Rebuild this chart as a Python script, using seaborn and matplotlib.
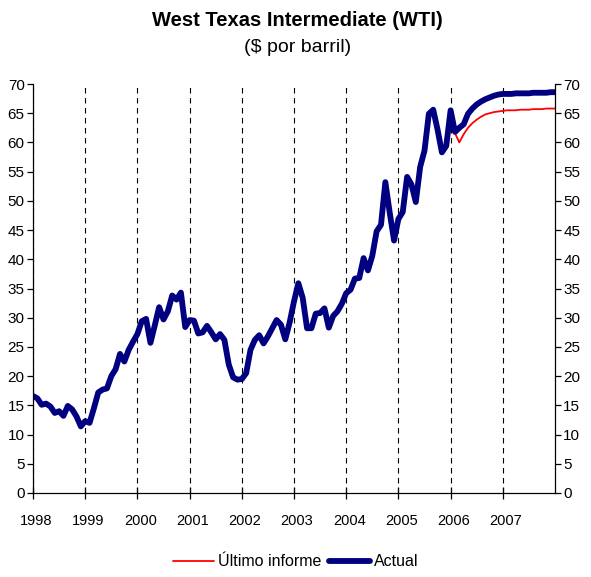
import numpy as np
import pandas as pd
import matplotlib
matplotlib.use("Agg")
import matplotlib.pyplot as plt
import matplotlib.transforms as mtransforms
import seaborn as sns

# ------------------------------------------------------------
# Datos: precio mensual WTI (ene 1998 - ene 2008)
# ------------------------------------------------------------

actual = [
    16.6, 16.2, 15.1, 15.3, 14.8, 13.7, 14.0, 13.2, 14.9, 14.3, 13.1, 11.4,  # 1998
    12.3, 12.0, 14.5, 17.2, 17.7, 17.9, 20.0, 21.2, 23.8, 22.5, 24.5, 25.9,  # 1999
    27.2, 29.4, 29.8, 25.7, 28.7, 31.8, 29.7, 31.1, 33.8, 33.1, 34.3, 28.4,  # 2000
    29.6, 29.5, 27.3, 27.5, 28.6, 27.5, 26.3, 27.2, 26.2, 22.0, 19.8, 19.4,  # 2001
    19.5, 20.5, 24.5, 26.2, 27.0, 25.6, 26.8, 28.2, 29.6, 28.8, 26.3, 29.2,  # 2002
    32.8, 35.9, 33.4, 28.2, 28.2, 30.7, 30.8, 31.6, 28.3, 30.3, 31.1, 32.4,  # 2003
    34.2, 34.8, 36.7, 36.8, 40.2, 38.1, 40.6, 44.8, 45.9, 53.2, 48.0, 43.2,  # 2004
    46.9, 48.1, 54.1, 52.8, 49.8, 55.8, 58.6, 64.9, 65.6, 62.2, 58.3, 59.4,  # 2005
    65.5, 61.8, 62.5, 63.1, 64.9, 65.8, 66.5, 67.0, 67.4, 67.7, 68.0, 68.2,  # 2006
    68.3, 68.3, 68.3, 68.4, 68.4, 68.4, 68.4, 68.5, 68.5, 68.5, 68.5, 68.6,  # 2007
    68.6,                                                                    # 2008
]

# "Último informe" empieza en feb 2006
ultimo_inicio = 97
ultimo = [
    61.6, 60.0, 61.4, 62.5, 63.3, 63.9, 64.4, 64.8, 65.0, 65.2, 65.3,        # 2006
    65.4, 65.5, 65.5, 65.5, 65.6, 65.6, 65.6, 65.7, 65.7, 65.7, 65.8, 65.8,  # 2007
    65.8,                                                                    # 2008
]

years = list(range(1998, 2008))
yticks = list(range(0, 75, 5))

df_actual = pd.DataFrame({"x": 1998 + np.arange(len(actual)) / 12, "valor": actual})
df_ultimo = pd.DataFrame({
    "x": 1998 + (ultimo_inicio + np.arange(len(ultimo))) / 12,
    "valor": ultimo,
})

# ------------------------------------------------------------
# Estilo
# ------------------------------------------------------------

sns.set_style("ticks")
plt.rcParams["font.family"] = ["Liberation Sans", "DejaVu Sans"]
plt.rcParams["text.color"] = "black"

fig = plt.figure(figsize=(5.91, 5.77), dpi=100)
ax = fig.add_axes([33 / 591, 84 / 577, 522 / 591, 409 / 577])

sns.lineplot(data=df_ultimo, x="x", y="valor", ax=ax, color="#ff0000",
             linewidth=1.3, label="Último informe")
sns.lineplot(data=df_actual, x="x", y="valor", ax=ax, color="#000080",
             linewidth=4.2, label="Actual", solid_capstyle="round")

ax.set_xlim(1998, 2008)
ax.set_ylim(0, 70)
ax.set_xticks(years)
ax.set_xticklabels([str(y) for y in years], fontsize=10.5)
ax.set_yticks(yticks)
ax.set_yticklabels([str(v) for v in yticks], fontsize=11)
ax.set_xlabel("")
ax.set_ylabel("")

ax.set_axisbelow(True)
ax.xaxis.grid(True, color="black", linestyle=(0, (5, 4)), linewidth=0.8)

ax.tick_params(axis="y", which="both", direction="out", length=4, width=0.9,
               left=True, right=True, labelleft=True, labelright=True,
               colors="black", labelcolor="black", pad=2)
ax.tick_params(axis="x", direction="inout", length=8, width=0.9, colors="black",
               labelcolor="black", pad=11)

for lado in ["left", "right", "bottom"]:
    ax.spines[lado].set_visible(True)
    ax.spines[lado].set_color("black")
    ax.spines[lado].set_linewidth(0.9)
ax.spines["top"].set_visible(False)

offset = mtransforms.ScaledTranslation(3 / 100, 0, fig.dpi_scale_trans)
for lbl in ax.get_xticklabels():
    lbl.set_transform(lbl.get_transform() + offset)

# ------------------------------------------------------------
# Títulos y leyenda
# ------------------------------------------------------------

fig.text(0.503, 1 - 20 / 577, "West Texas Intermediate (WTI)", ha="center",
         va="center", fontsize=14.5, fontweight="bold", color="black")
fig.text(0.503, 1 - 48 / 577, "($ por barril)", ha="center", va="center",
         fontsize=14, color="black")

ax.get_legend().remove()
handles, labels = ax.get_legend_handles_labels()
fig.legend(handles, labels, loc="center", bbox_to_anchor=(0.5, 1 - 562 / 577),
           ncol=2, frameon=False, fontsize=11.5, handlelength=2.6,
           handletextpad=0.2, columnspacing=0.5)

fig.savefig("out.png", dpi=100)
plt.close()
